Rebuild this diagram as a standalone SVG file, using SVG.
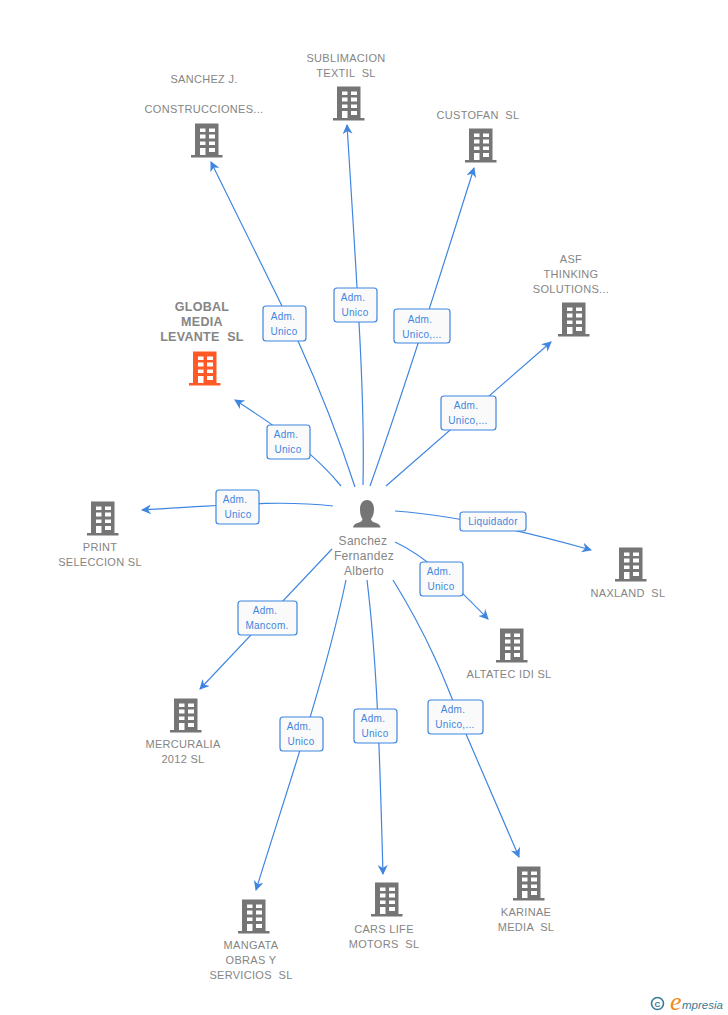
<svg xmlns="http://www.w3.org/2000/svg" width="728" height="1015" viewBox="0 0 728 1015">
<style>
text{white-space:pre}
.n{font:11px "Liberation Sans",Arial,sans-serif;fill:#858585;text-anchor:middle;letter-spacing:.3px}
.g{font:bold 12.5px "Liberation Sans",Arial,sans-serif;fill:#858585;text-anchor:middle;letter-spacing:.3px}
.p{font:12px "Liberation Sans",Arial,sans-serif;fill:#858585;text-anchor:middle;letter-spacing:.3px}
.l{font:10px "Liberation Sans",Arial,sans-serif;fill:#3f86e0;text-anchor:middle;letter-spacing:.3px}
.c{fill:none;stroke:#3f86e0;stroke-width:1.2}
.b{fill:#fafafa;stroke:#3f86e0;stroke-width:1.2}
</style>
<defs>
<marker id="a" viewBox="0 0 10 10" refX="9" refY="5" markerWidth="10" markerHeight="10" markerUnits="userSpaceOnUse" orient="auto"><path d="M0 0L10 5L0 10L3 5Z" fill="#3f86e0"/></marker>
<g id="bld">
<path fill-rule="evenodd" d="M-11-16.500H12.500V15H16.500V17.500H-15V15H-11ZM-6-11.500V-8H-.5V-11.500ZM3-11.500V-8H9V-11.500ZM-6-5.500V-1.500H-.5V-5.500ZM3-5.500V-1.500H9V-5.500ZM-6 1.500V5H-.5V1.500ZM3 1.500V5H9V1.500ZM-6 8V15H-.5V8ZM3 8V12H9V8Z"/>
</g>
</defs>
<g id="connectors">
<path class="c" marker-end="url(#a)" d="M355 487C338 435 318 385 298 341C292 328 287 316 282 306L211 162"/>
<path class="c" marker-end="url(#a)" d="M363 485C365 400 358 300 347 125"/>
<path class="c" marker-end="url(#a)" d="M370 486C390 430 420 340 474 168"/>
<path class="c" marker-end="url(#a)" d="M386 486L551 342"/>
<path class="c" marker-end="url(#a)" d="M341 486C320 460 290 435 235 400"/>
<path class="c" marker-end="url(#a)" d="M333 506C280 500 230 505 142 510"/>
<path class="c" marker-end="url(#a)" d="M395 511C450 515 520 530 591 550"/>
<path class="c" marker-end="url(#a)" d="M395 542C425 556 450 580 488 619"/>
<path class="c" marker-end="url(#a)" d="M332 549L200 689"/>
<path class="c" marker-end="url(#a)" d="M346 580C325 680 290 780 256 890"/>
<path class="c" marker-end="url(#a)" d="M367 580C378 670 380 770 383 874"/>
<path class="c" marker-end="url(#a)" d="M393 580C430 640 445 680 466 734L519 857"/>
</g>
<g id="edge-labels">
<g><rect class="b" x="263" y="306" width="43" height="35" rx="3"/><text class="l" x="283" y="320">Adm.</text><text class="l" x="284" y="335">Unico</text></g>
<g><rect class="b" x="334" y="288" width="43" height="34" rx="3"/><text class="l" x="353" y="301">Adm.</text><text class="l" x="355" y="316">Unico</text></g>
<g><rect class="b" x="394" y="309" width="56" height="34" rx="3"/><text class="l" x="420" y="323">Adm.</text><text class="l" x="422" y="338">Unico,...</text></g>
<g><rect class="b" x="441" y="396" width="55" height="34" rx="3"/><text class="l" x="466" y="409">Adm.</text><text class="l" x="468" y="424">Unico,...</text></g>
<g><rect class="b" x="267" y="425" width="43" height="34" rx="3"/><text class="l" x="286" y="438">Adm.</text><text class="l" x="288" y="453">Unico</text></g>
<g><rect class="b" x="216" y="490" width="43" height="34" rx="3"/><text class="l" x="235" y="503">Adm.</text><text class="l" x="238" y="518">Unico</text></g>
<g><rect class="b" x="460" y="512" width="66" height="19" rx="3"/><text class="l" x="493" y="525">Liquidador</text></g>
<g><rect class="b" x="420" y="562" width="43" height="34" rx="3"/><text class="l" x="439" y="575">Adm.</text><text class="l" x="441" y="590">Unico</text></g>
<g><rect class="b" x="238" y="601" width="59" height="34" rx="3"/><text class="l" x="265" y="614">Adm.</text><text class="l" x="267" y="629">Mancom.</text></g>
<g><rect class="b" x="280" y="717" width="43" height="34" rx="3"/><text class="l" x="299" y="730">Adm.</text><text class="l" x="301" y="745">Unico</text></g>
<g><rect class="b" x="354" y="709" width="43" height="34" rx="3"/><text class="l" x="373" y="722">Adm.</text><text class="l" x="375" y="737">Unico</text></g>
<g><rect class="b" x="428" y="700" width="55" height="34" rx="3"/><text class="l" x="453" y="713">Adm.</text><text class="l" x="455" y="728">Unico,...</text></g>
</g>
<g id="person">
<path fill="#757575" d="M367 500C371.500 500 374 504 374 509C374 514 372.500 517 371 519C371 521 373 522 376 523C379 524 380.500 525.500 380.500 528V527.500H353V528C353 525.500 354.500 524 357.500 523C360.500 522 362.500 521 362.500 519C361 517 360 514 360 509C360 504 362.500 500 367 500Z"/>
<text class="p" x="363" y="545">Sanchez</text><text class="p" x="364" y="560">Fernandez</text><text class="p" x="364" y="575">Alberto</text>
</g>
<g id="sanchez" fill="#757575"><use href="#bld" x="206" y="140"/><text class="n" x="204" y="83">SANCHEZ J.</text><text class="n" x="204" y="113">CONSTRUCCIONES...</text></g>
<g id="sublimacion" fill="#757575"><use href="#bld" x="348" y="103"/><text class="n" x="346" y="62">SUBLIMACION</text><text class="n" x="346" y="77">TEXTIL  SL</text></g>
<g id="custofan" fill="#757575"><use href="#bld" x="480" y="145"/><text class="n" x="478" y="119">CUSTOFAN  SL</text></g>
<g id="asf" fill="#757575"><use href="#bld" x="573" y="319"/><text class="n" x="571" y="263">ASF</text><text class="n" x="571" y="278">THINKING</text><text class="n" x="571" y="293">SOLUTIONS...</text></g>
<g id="global" fill="#ff5a26"><use href="#bld" x="204" y="368"/><text class="g" x="202" y="311">GLOBAL</text><text class="g" x="202" y="326">MEDIA</text><text class="g" x="202" y="341">LEVANTE  SL</text></g>
<g id="print" fill="#757575"><use href="#bld" x="102" y="518"/><text class="n" x="100" y="551">PRINT</text><text class="n" x="100" y="566">SELECCION SL</text></g>
<g id="naxland" fill="#757575"><use href="#bld" x="630" y="564"/><text class="n" x="628" y="597">NAXLAND  SL</text></g>
<g id="altatec" fill="#757575"><use href="#bld" x="511" y="645"/><text class="n" x="509" y="678">ALTATEC IDI SL</text></g>
<g id="mercuralia" fill="#757575"><use href="#bld" x="185" y="715"/><text class="n" x="183" y="748">MERCURALIA</text><text class="n" x="183" y="763">2012 SL</text></g>
<g id="mangata" fill="#757575"><use href="#bld" x="253" y="916"/><text class="n" x="251" y="949">MANGATA</text><text class="n" x="251" y="964">OBRAS Y</text><text class="n" x="251" y="979">SERVICIOS  SL</text></g>
<g id="cars" fill="#757575"><use href="#bld" x="386" y="899"/><text class="n" x="384" y="933">CARS LIFE</text><text class="n" x="384" y="948">MOTORS  SL</text></g>
<g id="karinae" fill="#757575"><use href="#bld" x="528" y="883"/><text class="n" x="526" y="916">KARINAE</text><text class="n" x="526" y="931">MEDIA  SL</text></g>
<g id="logo"><circle cx="657.500" cy="1003.500" r="6" fill="none" stroke="#3b7a94" stroke-width="1.6"/><text x="657.500" y="1006.500" font-family="Liberation Sans,sans-serif" font-size="8" font-weight="bold" fill="#3b7a94" text-anchor="middle">C</text><text x="670" y="1010" font-family="Liberation Serif,serif" font-style="italic" font-size="26" fill="#f08a1d">e</text><text x="682" y="1009" font-family="Liberation Sans,sans-serif" font-style="italic" font-size="11.500" fill="#3b7a94">mpresia</text></g>
</svg>
